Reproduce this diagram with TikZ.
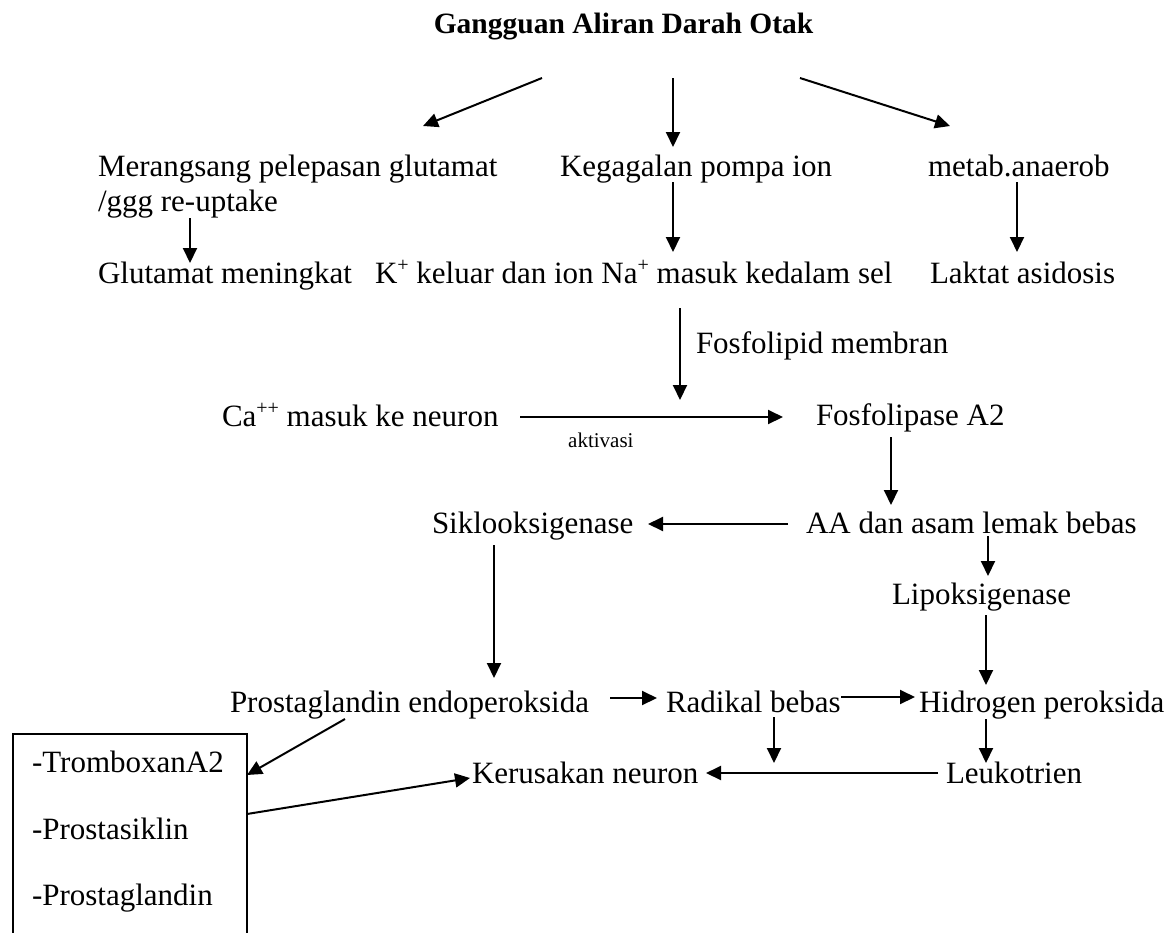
\documentclass[tikz,border=0pt]{standalone}
\usepackage{fontspec}
\setmainfont{Liberation Serif}
\usetikzlibrary{arrows.meta}
\newcommand\upsc[1]{\raisebox{0.36em}{\fontsize{20}{20}\selectfont #1}}
\tikzset{
  txt/.style={anchor=base west, inner sep=0pt, outer sep=0pt, font=\fontsize{31}{37}\selectfont},
  small/.style={anchor=base west, inner sep=0pt, font=\fontsize{21}{25}\selectfont},
  arr/.style={line width=2pt, -{Triangle[length=15pt,width=14pt]}},
  boxline/.style={draw, line width=2pt}
}
\begin{document}
\begin{tikzpicture}[x=1pt,y=-1pt]
\fill[white] (0,0) rectangle (1173,932);
\useasboundingbox (0,0) rectangle (1173,932);

% title
\node[anchor=base, inner sep=0pt, font=\fontsize{29.5}{35}\selectfont\bfseries] (title) at (623.5,33) {Gangguan Aliran Darah Otak};

% texts
\node[txt] (m1) at (98,176) {Merangsang pelepasan glutamat};
\node[txt] (m2) at (98,211) {/ggg re-uptake};
\node[txt] (kg) at (560,176) {Kegagalan pompa ion};
\node[txt] (ma) at (928,176) {metab.anaerob};
\node[txt] (gm) at (98,283) {Glutamat meningkat};
\node[txt] (kn) at (375,283) {K\upsc{+} keluar dan ion Na\upsc{+} masuk kedalam sel};
\node[txt] (la) at (930,283) {Laktat asidosis};
\node[txt] (fm) at (696,353) {Fosfolipid membran};
\node[txt] (ca) at (222,426) {Ca\upsc{++} masuk ke neuron};
\node[small] (ak) at (568,447) {aktivasi};
\node[txt] (fa) at (816,425) {Fosfolipase A2};
\node[txt] (sk) at (432,533) {Siklooksigenase};
\node[txt] (aa) at (806,533) {AA dan asam lemak bebas};
\node[txt] (lp) at (892,604) {Lipoksigenase};
\node[txt] (pe) at (230,712) {Prostaglandin endoperoksida};
\node[txt] (rb) at (666,712) {Radikal bebas};
\node[txt] (hp) at (919,712) {Hidrogen peroksida};
\node[txt] (kr) at (472,783) {Kerusakan neuron};
\node[txt] (lk) at (946,783) {Leukotrien};

% box with list
\node[boxline, anchor=north west, minimum width=234pt, minimum height=215pt, inner sep=0pt] (box) at (12,733) {};
\node[txt] (t1) at (32,772) {-TromboxanA2};
\node[txt] (t2) at (32,839) {-Prostasiklin};
\node[txt] (t3) at (32,905) {-Prostaglandin};

% connector end points
\coordinate (a1s) at (542,78);  \coordinate (a1e) at (423,126);
\coordinate (a2s) at (673,78);  \coordinate (a2e) at (673,147);
\coordinate (a3s) at (800,78);  \coordinate (a3e) at (950,126);
\coordinate (a4s) at (190,218); \coordinate (a4e) at (190,263);
\coordinate (a5s) at (673,182); \coordinate (a5e) at (673,252);
\coordinate (a6s) at (1017,182); \coordinate (a6e) at (1017,252);
\coordinate (a7s) at (680,308); \coordinate (a7e) at (680,400);
\coordinate (a8s) at (520,417); \coordinate (a8e) at (783,417);
\coordinate (a9s) at (891,437); \coordinate (a9e) at (891,505);
\coordinate (a10s) at (788,524); \coordinate (a10e) at (648,524);
\coordinate (a11s) at (988,536); \coordinate (a11e) at (988,576);
\coordinate (a12s) at (494,545); \coordinate (a12e) at (494,678);
\coordinate (a13s) at (986,615); \coordinate (a13e) at (986,685);
\coordinate (a14s) at (610,698); \coordinate (a14e) at (657,698);
\coordinate (a15s) at (841,697); \coordinate (a15e) at (915,697);
\coordinate (a16s) at (774,717); \coordinate (a16e) at (774,763);
\coordinate (a17s) at (986,719); \coordinate (a17e) at (986,763);
\coordinate (a18s) at (938,773); \coordinate (a18e) at (706,773);
\coordinate (a19s) at (345,719); \coordinate (a19e) at (247,775);
\coordinate (a20s) at (247,814); \coordinate (a20e) at (470,778);

\foreach \i in {1,...,20} {\draw[arr] (a\i s) -- (a\i e);}
\end{tikzpicture}
\end{document}
